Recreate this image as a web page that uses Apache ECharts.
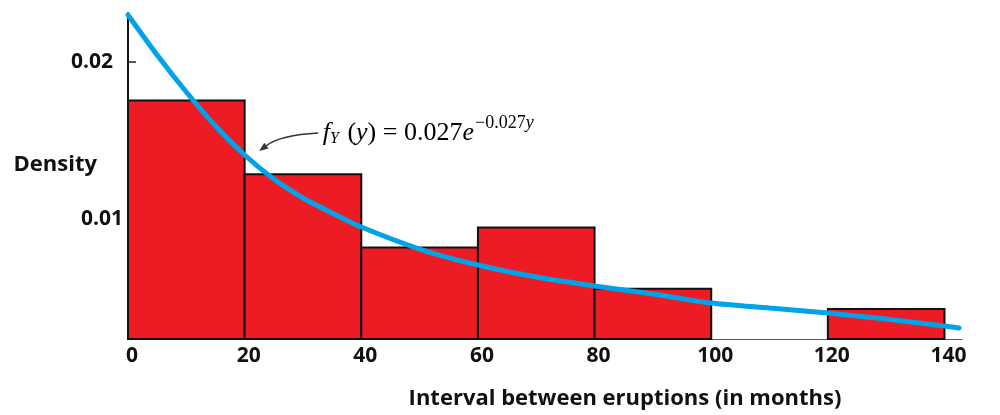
<!DOCTYPE html>
<html>
<head>
<meta charset="utf-8">
<script src="https://cdn.jsdelivr.net/npm/echarts@6/dist/echarts.min.js"></script>
<style>
  html, body { margin: 0; padding: 0; background: #fff; }
  #chart { width: 1000px; height: 415px; }
</style>
</head>
<body>
<div id="chart"></div>
<script>
// Histogram bins (months) and the density of each bin
const binStarts = [0, 20, 40, 60, 80, 120];
const binEnds   = [20, 40, 60, 80, 100, 140];
const densities = [0.01755, 0.01285, 0.00819, 0.00946, 0.00556, 0.00427];

// Fitted exponential density, sampled along the interval axis
const curveX = [0, 5, 10, 15, 20, 25, 30, 35, 40, 50, 60, 70, 80, 90, 100, 110, 120, 130, 140, 142.5];
const curveY = [0.02300, 0.02045, 0.01809, 0.01593, 0.01408, 0.01255, 0.01134, 0.01039, 0.00949,
                0.00809, 0.00707, 0.00631, 0.00574, 0.00523, 0.00465, 0.00433, 0.00402, 0.00363,
                0.00319, 0.00306];

// Axis ticks
const xTickValues = [0, 20, 40, 60, 80, 100, 120, 140];
const yTickValues = [0.01, 0.02];

// Visible value range of the density axis
const Y_MIN = 0.00236;
const Y_MAX = 0.023124;
const X_MAX = 143;

// Anchor points (data space) for the formula callout
const callout = {
  tail: [32.6, 0.01548],
  ctrl: [26.1, 0.01535],
  tip:  [22.5, 0.01433],
  text: [33.4, 0.01565]
};

const FONT = '"Open Sans", "DejaVu Sans", sans-serif';
const SERIF = '"Liberation Serif", "DejaVu Serif", serif';
const RED = '#ED1C24';
const BLUE = '#00A2E8';

const chart = echarts.init(document.getElementById('chart'), null, { renderer: 'canvas' });

const labelStyle = { fontFamily: FONT, fontWeight: 'bold', fontSize: 21, color: '#111' };
const nameStyle = { fontFamily: FONT, fontWeight: 'bold', fontSize: 22, color: '#111' };

chart.setOption({
  animation: false,
  backgroundColor: '#fff',
  grid: { left: 128, right: 38, top: 13, bottom: 76, containLabel: false, outerBoundsMode: 'none' },
  xAxis: {
    type: 'value',
    min: 0,
    max: X_MAX,
    interval: 20,
    axisLine: { show: true, lineStyle: { color: '#555', width: 1 } },
    axisTick: { show: false },
    splitLine: { show: false },
    axisLabel: Object.assign({}, labelStyle, {
      customValues: xTickValues,
      margin: 7,
      padding: [0, 0, 0, 8]
    }),
    name: 'Interval between eruptions (in months)',
    nameLocation: 'middle',
    nameMoveOverlap: false,
    nameGap: 49,
    nameTextStyle: Object.assign({}, nameStyle, { padding: [0, 0, 0, 160] })
  },
  yAxis: {
    type: 'value',
    min: Y_MIN,
    max: Y_MAX,
    axisLine: { show: true, lineStyle: { color: '#111', width: 2 } },
    axisTick: {
      show: true, inside: true, length: 8,
      customValues: yTickValues,
      lineStyle: { color: '#222', width: 1.5 }
    },
    splitLine: { show: false },
    axisLabel: {
      customValues: yTickValues,
      margin: 5,
      formatter: function (v) {
        return Math.abs(v - 0.02) < 1e-9 ? '{far|0.02}' : '{near|' + v.toFixed(2) + '}';
      },
      rich: {
        near: Object.assign({}, labelStyle),
        far: Object.assign({}, labelStyle, { padding: [0, 10, 0, 0] })
      }
    },
    name: 'Density',
    nameLocation: 'middle',
    nameMoveOverlap: false,
    nameRotate: 0,
    nameGap: 31,
    nameTextStyle: Object.assign({}, nameStyle, { verticalAlign: 'bottom' })
  },
  series: [
    {
      type: 'custom',
      name: 'histogram',
      data: binStarts.map((s, i) => [s, binEnds[i], densities[i]]),
      encode: { x: [0, 1], y: 2 },
      renderItem: function (params, api) {
        const topLeft = api.coord([api.value(0), api.value(2)]);
        const bottomRight = api.coord([api.value(1), Y_MIN]);
        return {
          type: 'rect',
          shape: {
            x: topLeft[0],
            y: topLeft[1],
            width: bottomRight[0] - topLeft[0],
            height: bottomRight[1] - topLeft[1]
          },
          style: { fill: RED, stroke: '#111', lineWidth: 2 }
        };
      },
      z: 2
    },
    {
      type: 'line',
      name: 'density curve',
      data: curveX.map((x, i) => [x, curveY[i]]),
      smooth: 0.25,
      showSymbol: false,
      clip: false,
      lineStyle: { color: BLUE, width: 5, cap: 'round' },
      z: 3
    }
  ]
});

// Formula callout with a curved arrow pointing at the curve
function px(p) { return chart.convertToPixel({ gridIndex: 0 }, p); }
const t = px(callout.tail), c = px(callout.ctrl), h = px(callout.tip), tx = px(callout.text);
const ang = Math.atan2(h[1] - c[1], h[0] - c[0]);
const L = 9, W = 3.5;
const back = [h[0] - L * Math.cos(ang), h[1] - L * Math.sin(ang)];
const head = [
  h,
  [back[0] + W * Math.sin(ang), back[1] - W * Math.cos(ang)],
  [back[0] - W * Math.sin(ang), back[1] + W * Math.cos(ang)]
];

const serifBase = { fontFamily: SERIF, color: '#222', lineHeight: 32 };
chart.setOption({
  graphic: [
    {
      type: 'bezierCurve',
      shape: { x1: t[0], y1: t[1], x2: back[0], y2: back[1], cpx1: c[0], cpy1: c[1] },
      style: { stroke: '#333', lineWidth: 1.3, fill: null },
      z: 10
    },
    {
      type: 'polygon',
      shape: { points: head },
      style: { fill: '#333' },
      z: 10
    },
    {
      type: 'text',
      x: tx[0],
      y: tx[1],
      style: {
        text: '{i|f}{sub|Y}{r| (}{i|y}{r|) = 0.027}{i|e}{sup|\u22120.027}{supi|y}',
        verticalAlign: 'middle',
        align: 'left',
        rich: {
          i: Object.assign({}, serifBase, { fontStyle: 'italic', fontSize: 26, verticalAlign: 'bottom' }),
          r: Object.assign({}, serifBase, { fontSize: 26, verticalAlign: 'bottom' }),
          sub: Object.assign({}, serifBase, { fontStyle: 'italic', fontSize: 16, verticalAlign: 'bottom', padding: [0, 2, 0, 0] }),
          sup: Object.assign({}, serifBase, { fontSize: 18, verticalAlign: 'top', padding: [0, 0, 0, 1] }),
          supi: Object.assign({}, serifBase, { fontStyle: 'italic', fontSize: 18, verticalAlign: 'top' })
        }
      },
      z: 10
    }
  ]
});
</script>
</body>
</html>
